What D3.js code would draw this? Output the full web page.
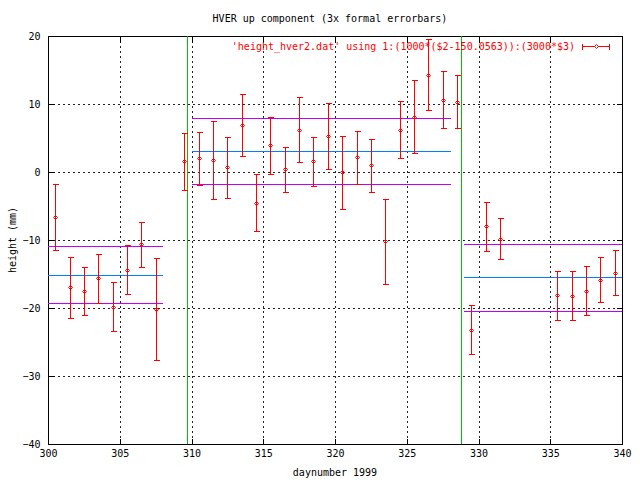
<!DOCTYPE html>
<html><head><meta charset="utf-8">
<script src="https://cdn.jsdelivr.net/npm/d3@7"></script>
<style>
body{margin:0;background:#fff;}
text{font-family:"DejaVu Sans Mono","Liberation Mono",monospace;font-size:10px;}
</style></head>
<body><svg id="c" width="640" height="480"></svg>
<script>
// ---- data ----
const days = [300.47,301.53,302.51,303.48,304.53,305.5,306.48,307.53,
  309.48,310.52,311.5,312.47,313.5,314.49,315.47,316.52,317.47,318.47,319.51,320.49,321.53,322.51,323.48,324.51,325.53,326.51,327.55,328.5,
  329.48,330.52,331.5,335.47,336.52,337.49,338.47,339.51];
const heights = [-6.6,-16.97,-17.5,-15.66,-19.8,-14.34,-10.66,-20.15,
  1.57,2.0,1.79,0.67,6.93,-4.49,3.9,0.37,6.24,1.58,5.34,-0.06,2.14,0.98,-10.22,6.25,8.16,14.31,10.63,10.34,
  -23.2,-8.0,-9.78,-18.16,-18.2,-17.43,-15.81,-14.78];
const errors = [4.85,4.47,3.53,3.6,3.6,3.6,3.3,7.5,
  4.17,3.88,5.75,4.49,4.58,4.19,4.2,3.31,4.77,3.58,4.85,5.35,3.9,3.88,6.25,4.19,5.37,5.2,4.22,3.93,
  3.6,3.6,3.0,3.6,3.6,3.6,3.31,3.31];
const segStart = [300, 310.05, 329.0];
const segEnd   = [308.04, 328.06, 340];
const segMean  = [-15.15, 3.09, -15.44];
const segUpper = [-10.88, 7.94, -10.54];
const segLower = [-19.26, -1.76, -20.44];
const breaks = [309.71, 328.8];
const xTicks = [300,305,310,315,320,325,330,335,340];
const yTicks = [-40,-30,-20,-10,0,10,20];
const titleText = "HVER up component (3x formal errorbars)";
const xLabel = "daynumber 1999";
const yLabel = "height (mm)";
const legendText = "'height_hver2.dat' using 1:(1000*($2-150.0563)):(3000*$3)";

// ---- layout ----
const L=48, R=622, T=36, B=444;
const svg = d3.select("#c");
const x = d3.scaleLinear().domain([300,340]).range([L,R]);
const y = d3.scaleLinear().domain([-40,20]).range([B,T]);
const px = v => Math.round(x(v))+0.5;
const py = v => Math.round(y(v))+0.5;
const RED="#ff0000", GREEN="#00c000", BLUE="#0080ff", PURPLE="#c000ff";

// grid
const g = svg.append("g").attr("shape-rendering","crispEdges");
g.selectAll(".gx").data(xTicks.slice(1,-1)).join("line")
  .attr("x1",d=>px(d)).attr("x2",d=>px(d)).attr("y1",T).attr("y2",B)
  .attr("stroke","#222").attr("stroke-dasharray","2,3");
g.selectAll(".gy").data(yTicks.slice(1,-1)).join("line")
  .attr("y1",d=>py(d)).attr("y2",d=>py(d)).attr("x1",L).attr("x2",R)
  .attr("stroke","#222").attr("stroke-dasharray","2,3");

// axes via d3 (ticks inward, mirrored)
const ax = svg.append("g").attr("shape-rendering","crispEdges");
const addAxis = (gen, tx, ty, labels) => {
  const a = ax.append("g").attr("transform",`translate(${tx},${ty})`).call(gen);
  a.select(".domain").remove();
  a.selectAll("line").attr("stroke","#000");
  if(!labels) a.selectAll("text").remove();
  else a.selectAll("text").attr("fill","#000").style("font-size","10px")
        .style("font-family",'"DejaVu Sans Mono","Liberation Mono",monospace');
  return a;
};
addAxis(d3.axisBottom(x).tickValues(xTicks).tickFormat(d3.format("d")).tickSizeInner(-6).tickPadding(5), 0, B+0.5, true);
addAxis(d3.axisTop(x).tickValues(xTicks).tickSizeInner(-6), 0, T+0.5, false);
addAxis(d3.axisLeft(y).tickValues(yTicks).tickFormat(d3.format("d")).tickSizeInner(-6).tickPadding(8), L+0.5, 0, true);
addAxis(d3.axisRight(y).tickValues(yTicks).tickSizeInner(-6), R+0.5, 0, false);
ax.append("rect").attr("x",L+0.5).attr("y",T+0.5).attr("width",R-L).attr("height",B-T)
  .attr("fill","none").attr("stroke","#000");

// break lines
const ln = svg.append("g").attr("shape-rendering","crispEdges");
ln.selectAll(".br").data(breaks).join("line")
  .attr("x1",d=>px(d)).attr("x2",d=>px(d)).attr("y1",T).attr("y2",B).attr("stroke",GREEN);
// segment lines
const segs = segStart.map((s,i)=>({s,e:segEnd[i],m:segMean[i],u:segUpper[i],l:segLower[i]}));
[["u",PURPLE],["m",BLUE],["l",PURPLE]].forEach(([k,c])=>{
  ln.selectAll(".s"+k).data(segs).join("line")
    .attr("x1",d=>x(d.s)).attr("x2",d=>x(d.e)).attr("y1",d=>py(d[k])).attr("y2",d=>py(d[k]))
    .attr("stroke",c);
});

// error bars
const pts = days.map((d,i)=>({d,v:heights[i],e:errors[i]}));
const eb = svg.append("g").attr("shape-rendering","crispEdges").attr("stroke",RED).attr("fill","none");
const bars = eb.selectAll("g").data(pts).join("g");
bars.append("line").attr("x1",d=>px(d.d)).attr("x2",d=>px(d.d)).attr("y1",d=>py(d.v+d.e)).attr("y2",d=>py(d.v-d.e));
bars.append("line").attr("x1",d=>px(d.d)-3).attr("x2",d=>px(d.d)+3).attr("y1",d=>py(d.v+d.e)).attr("y2",d=>py(d.v+d.e));
bars.append("line").attr("x1",d=>px(d.d)-3).attr("x2",d=>px(d.d)+3).attr("y1",d=>py(d.v-d.e)).attr("y2",d=>py(d.v-d.e));
const diamond = (cx,cy)=>`M${cx},${cy-2}L${cx+2},${cy}L${cx},${cy+2}L${cx-2},${cy}Z`;
svg.append("g").selectAll("path").data(pts).join("path")
  .attr("d",d=>diamond(px(d.d),py(d.v))).attr("fill","none").attr("stroke",RED);

// texts
svg.append("text").attr("x",330).attr("y",22).attr("text-anchor","middle").text(titleText);
svg.append("text").attr("x",335).attr("y",476).attr("text-anchor","middle").text(xLabel);
svg.append("text").attr("transform","translate(16,240) rotate(-90)").attr("text-anchor","middle").text(yLabel);

// legend
const lg = svg.append("g");
lg.append("text").attr("x",575).attr("y",50).attr("text-anchor","end").attr("fill",RED).text(legendText);
const lgY = 46.5;
const lgG = lg.append("g").attr("stroke",RED).attr("shape-rendering","crispEdges");
lgG.append("line").attr("x1",582).attr("x2",610).attr("y1",lgY).attr("y2",lgY);
lgG.append("line").attr("x1",582.5).attr("x2",582.5).attr("y1",lgY-3).attr("y2",lgY+3);
lgG.append("line").attr("x1",609.5).attr("x2",609.5).attr("y1",lgY-3).attr("y2",lgY+3);
lg.append("path").attr("d",diamond(596.5,lgY)).attr("fill","#fff").attr("stroke",RED);
</script></body></html>
